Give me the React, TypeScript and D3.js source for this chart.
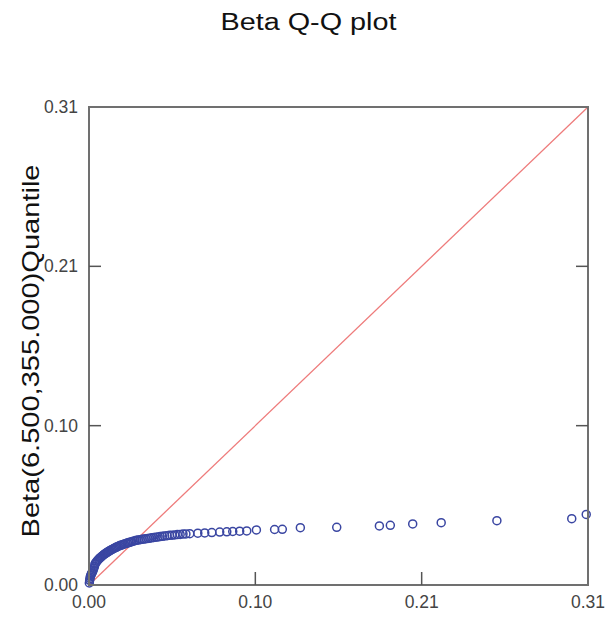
import * as d3 from "d3";

const W = 613
const H = 617
const DOMAIN_MAX = 0.31

// tick positions (thirds of the range) and the labels shown on them
const tickValues = [0, 0.31 / 3, 0.62 / 3, 0.31]
const tickLabels = ["0.00", "0.10", "0.21", "0.31"]

// sample quantiles (x)
const sampleQ = [
  0.0002, 0.0004, 0.0006, 0.0008, 0.0010, 0.0013, 0.0016, 0.0019, 0.0022, 0.0026, 0.0030, 0.0034, 0.0037,
  0.0040, 0.0045, 0.0050, 0.0055, 0.0060, 0.0065, 0.0070, 0.0076, 0.0082, 0.0088, 0.0094, 0.0100, 0.0106,
  0.0112, 0.0118, 0.0124, 0.0130, 0.0137, 0.0144, 0.0151, 0.0158, 0.0165, 0.0172, 0.0180, 0.0188, 0.0196,
  0.0204, 0.0212, 0.0220, 0.0229, 0.0238, 0.0247, 0.0256, 0.0265, 0.0275, 0.0285, 0.0295,
  0.0306, 0.0318, 0.0330, 0.0342, 0.0354, 0.0366, 0.0378, 0.0390, 0.0403, 0.0416, 0.0429, 0.0442, 0.0456,
  0.0470, 0.0485, 0.0500, 0.0516, 0.0532, 0.0549, 0.0566, 0.0584, 0.0602,
  0.0626, 0.0676, 0.0719, 0.0763, 0.0812, 0.0856, 0.0893, 0.0936, 0.0980,
  0.1040, 0.1153, 0.1201, 0.1313, 0.1539, 0.1804, 0.1872, 0.2011, 0.2188, 0.2534, 0.2999, 0.3089,
]

// Beta(6.5, 355) quantiles (y)
const betaQ = [
  0.0013, 0.0030, 0.0042, 0.0052, 0.0060, 0.0067, 0.0074, 0.0080, 0.0086, 0.0096, 0.0108, 0.0120, 0.0136,
  0.0140, 0.0148, 0.0155, 0.0161, 0.0167, 0.0172, 0.0177, 0.0183, 0.0188, 0.0193, 0.0198, 0.0203, 0.0207,
  0.0211, 0.0215, 0.0219, 0.0223, 0.0227, 0.0231, 0.0235, 0.0239, 0.0243, 0.0246, 0.0250, 0.0254, 0.0257,
  0.0260, 0.0263, 0.0266, 0.0269, 0.0272, 0.0275, 0.0278, 0.0281, 0.0284, 0.0287, 0.0290,
  0.0292, 0.0294, 0.0296, 0.0298, 0.0300, 0.0302, 0.0304, 0.0306, 0.0308, 0.0310, 0.0312, 0.0314, 0.0316,
  0.0318, 0.0320, 0.0322, 0.0323, 0.0325, 0.0327, 0.0328, 0.0330, 0.0331,
  0.0333, 0.0336, 0.0338, 0.0340, 0.0343, 0.0345, 0.0347, 0.0349, 0.0351,
  0.0357, 0.0360, 0.0361, 0.0372, 0.0374, 0.0383, 0.0387, 0.0396, 0.0404, 0.0417, 0.0430, 0.0458,
]

export default function App() {
  const left = 89, right = 588, top = 107, bottom = 585

  const x = d3.scaleLinear().domain([0, DOMAIN_MAX]).range([left, right])
  const y = d3.scaleLinear().domain([0, DOMAIN_MAX]).range([bottom, top])

  const points = sampleQ.map((v, i) => [v, betaQ[i]])
  const diag = d3.line<number>().x(d => x(d)).y(d => y(d))([0, DOMAIN_MAX])

  const font = "'Liberation Sans', Arial, sans-serif"
  const inner = tickValues.slice(1, 3)

  return (
    <svg width={W} height={H} style={{ position: "absolute", left: 0, top: 0, background: "#fff" }}
      xmlns="http://www.w3.org/2000/svg">
      <text x={308.5} y={30} textAnchor="middle" fontFamily={font} fontSize={23}
        textLength={176} lengthAdjust="spacingAndGlyphs" fill="#111">Beta Q-Q plot</text>

      {/* diagonal reference line */}
      <path d={diag ?? ""} stroke="#ee7b7b" strokeWidth={1.3} fill="none" />

      {/* points */}
      <g fill="none" stroke="#3a46a2" strokeWidth={1.5}>
        {points.map((p, i) => (
          <circle key={i} cx={x(p[0])} cy={y(p[1])} r={4} />
        ))}
      </g>

      {/* frame */}
      <rect x={left} y={top} width={right - left} height={bottom - top} fill="none" stroke="#707070" strokeWidth={2} />

      {/* inward ticks */}
      <g stroke="#555" strokeWidth={1.5}>
        {inner.map((t, i) => (
          <g key={i}>
            <line x1={left} x2={left + 12} y1={y(t)} y2={y(t)} />
            <line x1={right} x2={right - 12} y1={y(t)} y2={y(t)} />
            <line x1={x(t)} x2={x(t)} y1={bottom} y2={bottom - 13} />
          </g>
        ))}
      </g>

      {/* tick labels */}
      <g fontFamily={font} fontSize={17.5} fill="#444">
        {tickValues.map((t, i) => (
          <text key={"y" + i} x={78} y={y(t)} dy="0.35em" textAnchor="end">{tickLabels[i]}</text>
        ))}
        {tickValues.map((t, i) => (
          <text key={"x" + i} x={x(t)} y={608} textAnchor="middle">{tickLabels[i]}</text>
        ))}
      </g>

      <text transform={`translate(39,351) rotate(-90)`} textAnchor="middle" fontFamily={font} fontSize={24}
        textLength={373} lengthAdjust="spacingAndGlyphs" fill="#111">Beta(6.500,355.000)Quantile</text>
    </svg>
  )
}
